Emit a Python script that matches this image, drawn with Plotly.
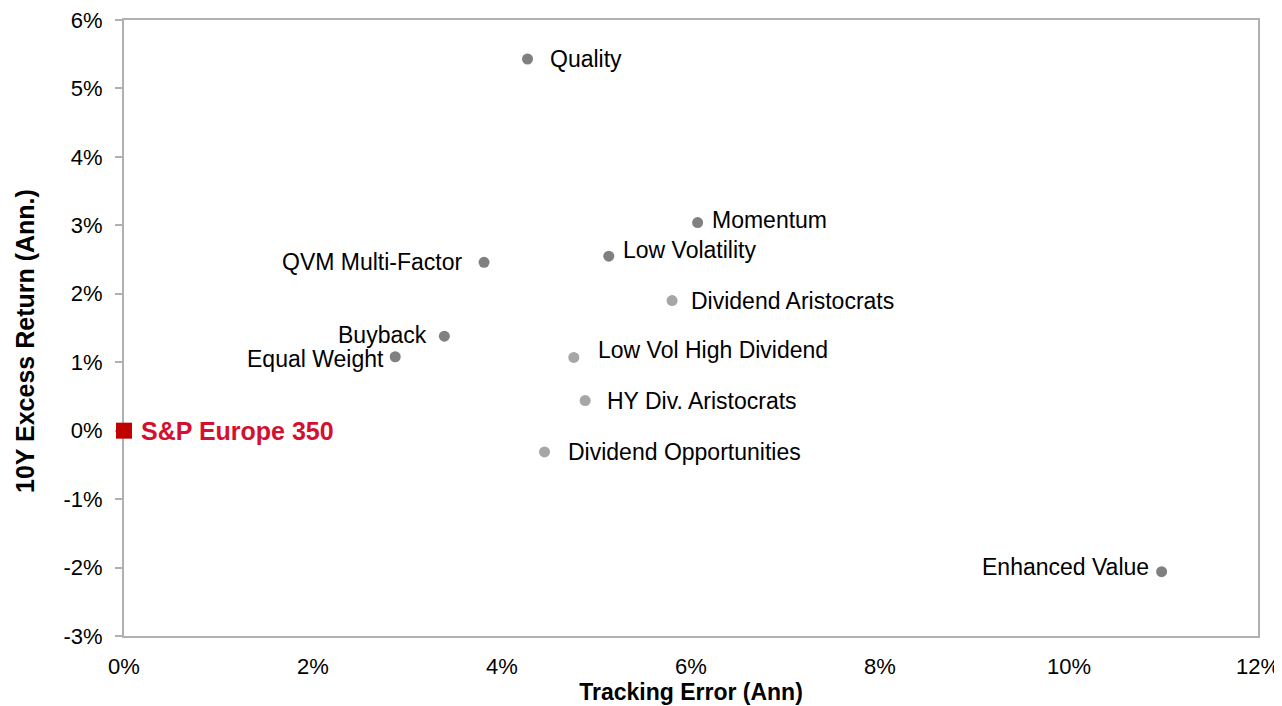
import plotly.graph_objects as go

# Data (percent)
names = ["Quality", "Momentum", "Low Volatility", "QVM Multi-Factor", "Dividend Aristocrats",
         "Buyback", "Equal Weight", "Low Vol High Dividend", "HY Div. Aristocrats",
         "Dividend Opportunities", "Enhanced Value"]
tracking_error = [4.27, 6.07, 5.13, 3.81, 5.80, 3.39, 2.87, 4.76, 4.88, 4.45, 10.98]
excess_return = [5.43, 3.04, 2.55, 2.46, 1.90, 1.38, 1.08, 1.07, 0.44, -0.31, -2.06]
is_dividend = [False, False, False, False, True, False, False, True, True, True, False]

bench_name = "S&P Europe 350"
bench_te = [0.0]
bench_ret = [0.0]

# label placement (style)
label_side = ["right", "right", "right", "left", "right", "left", "left", "right", "right", "right", "left"]
label_xshift = [20, 12, 12, -19, 17, -15, -9, 22, 20, 21, -11]
label_yshift = [0, 3, 6, 0, 0, 1, -2, 7, 0, 0, 5]

DARK = "#808080"
LIGHT = "#a6a6a6"
FONT = "Liberation Sans, Arial"

fig = go.Figure()
fig.add_trace(go.Scatter(
    x=tracking_error, y=excess_return, mode="markers",
    marker=dict(size=11, color=[LIGHT if d else DARK for d in is_dividend]),
    hovertext=names, showlegend=False,
))
fig.add_trace(go.Scatter(
    x=bench_te, y=bench_ret, mode="markers",
    marker=dict(size=16, symbol="square", color="#c00000"),
    showlegend=False, cliponaxis=False,
))

annotations = []
for n, x, y, side, xs, ys in zip(names, tracking_error, excess_return, label_side, label_xshift, label_yshift):
    annotations.append(dict(
        x=x, y=y, text=n, showarrow=False,
        xanchor="left" if side == "right" else "right", yanchor="middle",
        xshift=xs, yshift=ys,
        font=dict(family=FONT, size=23, color="#000000"),
    ))
annotations.append(dict(
    x=bench_te[0], y=bench_ret[0], text="<b>" + bench_name + "</b>", showarrow=False,
    xanchor="left", yanchor="middle", xshift=15, yshift=0,
    font=dict(family=FONT, size=25, color="#d4102f"),
))
# y-axis title
annotations.append(dict(
    x=0, y=0.479, xref="paper", yref="paper", text="<b>10Y Excess Return (Ann.)</b>",
    showarrow=False, textangle=-90, xanchor="center", yanchor="middle", xshift=-99,
    font=dict(family=FONT, size=25, color="#000000"),
))

# the page body adds an 8px offset; the figure is sized so it ends at the window edge
fig.update_layout(
    width=1274, height=698,
    margin=dict(l=116, r=24, t=12, b=70),
    paper_bgcolor="white", plot_bgcolor="white",
    font=dict(family=FONT, size=22, color="#000000"),
    annotations=annotations,
    xaxis=dict(
        range=[0, 12], tickvals=[0, 2, 4, 6, 8, 10, 12],
        ticktext=["0%", "2%", "4%", "6%", "8%", "10%", "12%"],
        showgrid=False, zeroline=False, showline=True, mirror=True, automargin=False,
        layer="below traces", ticklabeloverflow="allow",
        linecolor="#b0b0b0", linewidth=2, ticks="", ticklabelstandoff=10,
        tickfont=dict(size=22),
        title=dict(text="<b>Tracking Error (Ann)</b>", font=dict(size=23), standoff=0),
    ),
    yaxis=dict(
        range=[-3, 6], tickvals=list(range(-3, 7)),
        ticktext=[f"{v}%" for v in range(-3, 7)],
        showgrid=False, zeroline=False, showline=True, mirror=True, automargin=False,
        layer="below traces", ticklabeloverflow="allow",
        linecolor="#b0b0b0", linewidth=2, ticks="outside", ticklen=7, tickcolor="#b0b0b0",
        tickwidth=2, ticklabelstandoff=8, tickfont=dict(size=22),
    ),
)

fig.write_html("out.html")
